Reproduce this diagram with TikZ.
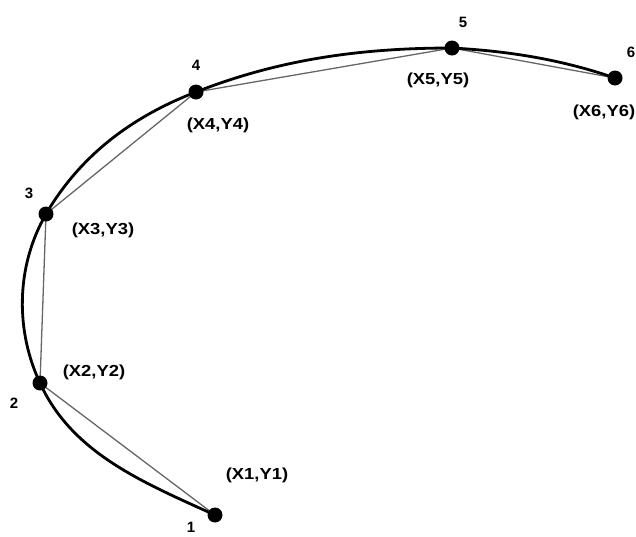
\documentclass[tikz,border=0pt]{standalone}
\usepackage{fontspec}
\setmainfont{Liberation Sans}
\begin{document}
\begin{tikzpicture}[x=1pt,y=-1pt,
  pt/.style={circle,fill=black,inner sep=0pt,minimum size=15pt},
  num/.style={font=\bfseries\fontsize{15}{15}\selectfont,inner sep=0pt},
  coord/.style={font=\bfseries\fontsize{16}{16}\selectfont,inner sep=0pt,xscale=1.15},
  curve/.style={line width=2.8pt,black},
  chord/.style={line width=1.3pt,black!60}]
\useasboundingbox (0,0) rectangle (636,536);
\coordinate (p1) at (215,515);
\coordinate (p2) at (40,383);
\coordinate (p3) at (46,214);
\coordinate (p4) at (196,92);
\coordinate (p5) at (452,48);
\coordinate (p6) at (615,78);
% chords
\draw[chord] (p1) -- (p2) -- (p3) -- (p4) -- (p5) -- (p6);
% curve
\draw[curve] (p1) .. controls (142,482) and (72,453) .. (p2)
  .. controls (16,332) and (15,268) .. (p3)
  .. controls (80,156) and (131,117) .. (p4)
  .. controls (280,59) and (362,48) .. (p5)
  .. controls (507,51) and (560,59) .. (p6);
% dots
\node[pt] (d1) at (p1) {};
\node[pt] (d2) at (p2) {};
\node[pt] (d3) at (p3) {};
\node[pt] (d4) at (p4) {};
\node[pt] (d5) at (p5) {};
\node[pt] (d6) at (p6) {};
% numbers
\node[num] (n1) at (191,527) {1};
\node[num] (n2) at (14,403) {2};
\node[num] (n3) at (29,193) {3};
\node[num] (n4) at (196,65) {4};
\node[num] (n5) at (463,22) {5};
\node[num] (n6) at (631,52) {6};
% coordinate labels
\node[coord] (c1) at (257,475) {(X1,Y1)};
\node[coord] (c2) at (94,372) {(X2,Y2)};
\node[coord] (c3) at (103,230) {(X3,Y3)};
\node[coord] (c4) at (218,125) {(X4,Y4)};
\node[coord] (c5) at (438,80) {(X5,Y5)};
\node[coord] (c6) at (604,112) {(X6,Y6)};
\end{tikzpicture}
\end{document}
